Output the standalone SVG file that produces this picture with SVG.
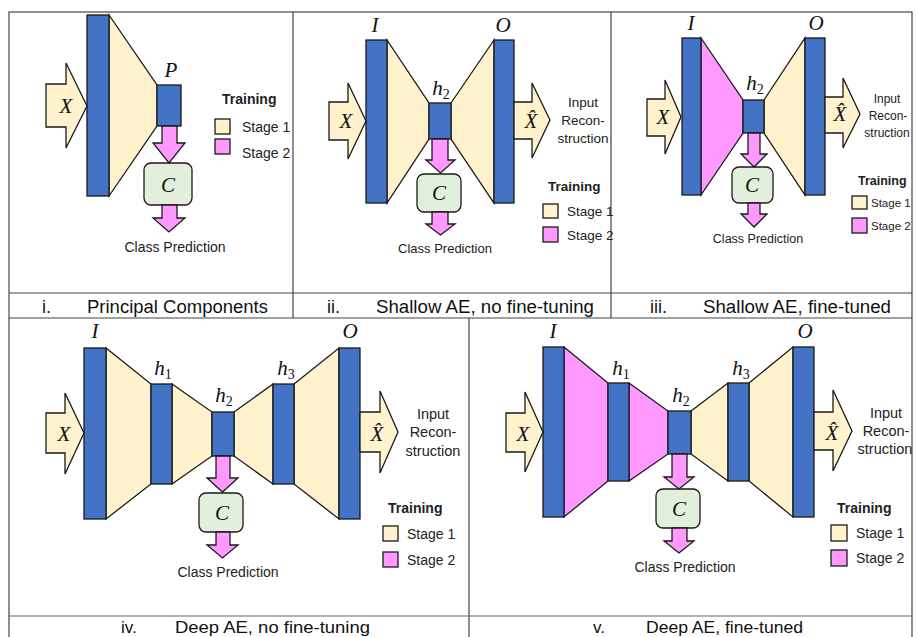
<svg xmlns="http://www.w3.org/2000/svg" width="916" height="637" viewBox="0 0 916 637">
<style>
.blue{fill:#4472c4;stroke:#1a1a1a;stroke-width:1.3}
.tan{fill:#fff2cc;stroke:#1a1a1a;stroke-width:1.3}
.pink{fill:#ff99ff;stroke:#1a1a1a;stroke-width:1.3}
.cbox{fill:#e2efda;stroke:#1a1a1a;stroke-width:1.3}
.grid{stroke:#444;stroke-width:1.2;fill:none}
.math{font-family:"Liberation Serif",serif;font-style:italic;font-size:21px;fill:#111;text-anchor:middle}
.sub{font-size:14px;font-style:normal}
.lbl{font-family:"Liberation Sans",sans-serif;font-size:14px;fill:#222}
.mid{text-anchor:middle}
.bold{font-weight:bold}
.cap{font-family:"Liberation Sans",sans-serif;font-size:18px;fill:#111}
.s12{font-size:12px}
.s115{font-size:11.5px}
.s125{font-size:12.5px}
.s13{font-size:13px}
.s135{font-size:13.5px}
.s145{font-size:14.5px}
.s17{font-size:17px}
</style>
<rect x="0" y="0" width="916" height="637" fill="#fff"/>

<g id="grid" class="grid">
<rect x="9" y="12" width="903" height="640"/>
<line x1="293" y1="12" x2="293" y2="318"/>
<line x1="611" y1="12" x2="611" y2="318"/>
<line x1="9" y1="293" x2="912" y2="293"/>
<line x1="9" y1="318" x2="912" y2="318"/>
<line x1="469" y1="318" x2="469" y2="637"/>
<line x1="9" y1="616" x2="912" y2="616" stroke="#666"/>
</g>

<g id="captions">
<text class="cap" x="42" y="313">i.</text>
<text class="cap" x="87" y="313" textLength="181" lengthAdjust="spacingAndGlyphs">Principal Components</text>
<text class="cap" x="327" y="313">ii.</text>
<text class="cap" x="376" y="313" textLength="218" lengthAdjust="spacingAndGlyphs">Shallow AE, no fine-tuning</text>
<text class="cap" x="650" y="313">iii.</text>
<text class="cap" x="703" y="313" textLength="188" lengthAdjust="spacingAndGlyphs">Shallow AE, fine-tuned</text>
<text class="cap s17" x="121" y="633">iv.</text>
<text class="cap s17" x="175" y="633" textLength="195" lengthAdjust="spacingAndGlyphs">Deep AE, no fine-tuning</text>
<text class="cap s17" x="593" y="633">v.</text>
<text class="cap s17" x="646" y="633" textLength="157" lengthAdjust="spacingAndGlyphs">Deep AE, fine-tuned</text>
</g>

<!-- Panel i -->
<g id="panel-i">
<g id="i-encoder"><polygon class="tan" points="109,15 157,85 157,126 109,196"/></g>
<g id="i-input-layer"><rect class="blue" x="87" y="15" width="22" height="181"/></g>
<g id="i-P"><rect class="blue" x="157" y="85" width="24" height="41"/><text class="math" x="171" y="77">P</text></g>
<g id="i-C"><rect class="cbox" x="144" y="163" width="48" height="42" rx="7"/><text class="math" x="168" y="192">C</text></g>
<g id="i-X"><polygon class="tan" points="46,84 66,84 66,63 87,106 66,148 66,127 46,127"/><text class="math" x="66" y="113">X</text></g>
<text class="lbl mid" x="175" y="252">Class Prediction</text>
<g id="i-legend">
<text class="lbl bold" x="222" y="104">Training</text>
<rect class="tan" x="215" y="119" width="15" height="15"/><text class="lbl" x="242" y="132">Stage 1</text>
<rect class="pink" x="215" y="139" width="15" height="15"/><text class="lbl" x="242" y="158">Stage 2</text>
</g>
</g>

<!-- Panel ii -->
<g id="panel-ii">
<g id="ii-encoder"><polygon class="tan" points="387,40 429,103 429,139 387,203"/></g>
<g id="ii-decoder"><polygon class="tan" points="451,103 494,40 494,203 451,139"/></g>
<g id="ii-I"><rect class="blue" x="366" y="40" width="21" height="163"/><text class="math" x="375" y="32">I</text></g>
<g id="ii-h2"><rect class="blue" x="429" y="103" width="22" height="36"/><text class="math" x="441" y="95">h<tspan class="sub" dy="4">2</tspan></text></g>
<g id="ii-O"><rect class="blue" x="494" y="40" width="20" height="163"/><text class="math" x="503" y="32">O</text></g>
<g id="ii-C"><rect class="cbox" x="417" y="174" width="44" height="38" rx="7"/><text class="math" x="439" y="200">C</text></g>
<g id="ii-X"><polygon class="tan" points="329,102 348,102 348,83 366,121 348,159 348,140 329,140"/><text class="math" x="346" y="128">X</text></g>
<g id="ii-Xhat"><polygon class="tan" points="514,102 532,102 532,83 550,120 532,158 532,139 514,139"/><text class="math" x="531" y="128">X&#x302;</text></g>
<text class="lbl mid s135" x="583" y="107">Input</text>
<text class="lbl mid s135" x="583" y="125">Recon-</text>
<text class="lbl mid s135" x="583" y="143">struction</text>
<text class="lbl mid s13" x="445" y="253">Class Prediction</text>
<g id="ii-legend">
<text class="lbl bold s135" x="548" y="191">Training</text>
<rect class="tan" x="543" y="204" width="15" height="14"/><text class="lbl s135" x="567" y="216">Stage 1</text>
<rect class="pink" x="543" y="227" width="15" height="15"/><text class="lbl s135" x="567" y="240">Stage 2</text>
</g>
</g>

<!-- Panel iii -->
<g id="panel-iii">
<g id="iii-encoder"><polygon class="pink" points="701,38 743,100 743,133 701,195"/></g>
<g id="iii-decoder"><polygon class="tan" points="764,100 805,38 805,195 764,133"/></g>
<g id="iii-I"><rect class="blue" x="682" y="38" width="19" height="157"/><text class="math" x="691" y="30">I</text></g>
<g id="iii-h2"><rect class="blue" x="743" y="100" width="21" height="33"/><text class="math" x="755" y="90">h<tspan class="sub" dy="4">2</tspan></text></g>
<g id="iii-O"><rect class="blue" x="805" y="38" width="20" height="157"/><text class="math" x="816" y="30">O</text></g>
<g id="iii-C"><rect class="cbox" x="732" y="167" width="41" height="36" rx="7"/><text class="math" x="752" y="192">C</text></g>
<g id="iii-X"><polygon class="tan" points="647,99 665,99 665,80 681,117 665,154 665,136 647,136"/><text class="math" x="663" y="124">X</text></g>
<g id="iii-Xhat"><polygon class="tan" points="825,97 843,97 843,78 860,114 843,148 843,133 825,133"/><text class="math" x="840" y="121">X&#x302;</text></g>
<text class="lbl mid s12" x="887" y="103">Input</text>
<text class="lbl mid s12" x="888" y="120">Recon-</text>
<text class="lbl mid s12" x="887" y="137">struction</text>
<text class="lbl mid s125" x="758" y="243">Class Prediction</text>
<g id="iii-legend">
<text class="lbl bold s125" x="858" y="185">Training</text>
<rect class="tan" x="852" y="196" width="15" height="13"/><text class="lbl s115" x="871" y="207">Stage 1</text>
<rect class="pink" x="852" y="218" width="15" height="15"/><text class="lbl s115" x="871" y="230">Stage 2</text>
</g>
</g>

<!-- Panel iv -->
<g id="panel-iv">
<g id="iv-enc1"><polygon class="tan" points="106,348 151,384 151,484 106,519"/></g>
<g id="iv-enc2"><polygon class="tan" points="172,384 212,412 212,456 172,484"/></g>
<g id="iv-dec1"><polygon class="tan" points="234,412 273,384 273,484 234,456"/></g>
<g id="iv-dec2"><polygon class="tan" points="294,384 339,348 339,519 294,484"/></g>
<g id="iv-I"><rect class="blue" x="84" y="348" width="22" height="171"/><text class="math" x="95" y="338">I</text></g>
<g id="iv-h1"><rect class="blue" x="151" y="384" width="21" height="100"/><text class="math" x="163" y="375">h<tspan class="sub" dy="4">1</tspan></text></g>
<g id="iv-h2"><rect class="blue" x="212" y="412" width="22" height="44"/><text class="math" x="224" y="402">h<tspan class="sub" dy="4">2</tspan></text></g>
<g id="iv-h3"><rect class="blue" x="273" y="384" width="21" height="100"/><text class="math" x="286" y="375">h<tspan class="sub" dy="4">3</tspan></text></g>
<g id="iv-O"><rect class="blue" x="339" y="348" width="21" height="171"/><text class="math" x="350" y="338">O</text></g>
<g id="iv-C"><rect class="cbox" x="199" y="493" width="44" height="39" rx="7"/><text class="math" x="222" y="520">C</text></g>
<g id="iv-X"><polygon class="tan" points="46,413 65,413 65,393 84,433 65,474 65,453 46,453"/><text class="math" x="64" y="441">X</text></g>
<g id="iv-Xhat"><polygon class="tan" points="360,412 380,412 380,391 398,432 380,473 380,452 360,452"/><text class="math" x="377" y="441">X&#x302;</text></g>
<text class="lbl mid s145" x="433" y="419">Input</text>
<text class="lbl mid s145" x="433" y="437">Recon-</text>
<text class="lbl mid s145" x="433" y="456">struction</text>
<text class="lbl mid" x="228" y="577">Class Prediction</text>
<g id="iv-legend">
<text class="lbl bold" x="388" y="513">Training</text>
<rect class="tan" x="383" y="526" width="15" height="15"/><text class="lbl" x="407" y="539">Stage 1</text>
<rect class="pink" x="383" y="552" width="15" height="15"/><text class="lbl" x="407" y="565">Stage 2</text>
</g>
</g>

<!-- Panel v -->
<g id="panel-v">
<g id="v-enc1"><polygon class="pink" points="564,347 608,383 608,481 564,517"/></g>
<g id="v-enc2"><polygon class="pink" points="629,383 668,411 668,454 629,481"/></g>
<g id="v-dec1"><polygon class="tan" points="691,411 728,383 728,481 691,454"/></g>
<g id="v-dec2"><polygon class="tan" points="749,383 793,347 793,517 749,481"/></g>
<g id="v-I"><rect class="blue" x="543" y="347" width="21" height="170"/><text class="math" x="553" y="338">I</text></g>
<g id="v-h1"><rect class="blue" x="608" y="383" width="21" height="98"/><text class="math" x="621" y="375">h<tspan class="sub" dy="4">1</tspan></text></g>
<g id="v-h2"><rect class="blue" x="668" y="411" width="23" height="43"/><text class="math" x="681" y="402">h<tspan class="sub" dy="4">2</tspan></text></g>
<g id="v-h3"><rect class="blue" x="728" y="383" width="21" height="98"/><text class="math" x="741" y="375">h<tspan class="sub" dy="4">3</tspan></text></g>
<g id="v-O"><rect class="blue" x="793" y="347" width="21" height="170"/><text class="math" x="805" y="338">O</text></g>
<g id="v-C"><rect class="cbox" x="656" y="489" width="44" height="39" rx="7"/><text class="math" x="679" y="516">C</text></g>
<g id="v-X"><polygon class="tan" points="506,413 525,413 525,392 543,432 525,472 525,452 506,452"/><text class="math" x="523" y="441">X</text></g>
<g id="v-Xhat"><polygon class="tan" points="814,412 833,412 833,390 852,431 833,471 833,450 814,450"/><text class="math" x="832" y="440">X&#x302;</text></g>
<text class="lbl mid s145" x="886" y="418">Input</text>
<text class="lbl mid s145" x="886" y="436">Recon-</text>
<text class="lbl mid s145" x="885" y="454">struction</text>
<text class="lbl mid" x="685" y="572">Class Prediction</text>
<g id="v-legend">
<text class="lbl bold" x="837" y="513">Training</text>
<rect class="tan" x="831" y="525" width="16" height="16"/><text class="lbl" x="856" y="538">Stage 1</text>
<rect class="pink" x="831" y="550" width="16" height="16"/><text class="lbl" x="856" y="563">Stage 2</text>
</g>
</g>

<g id="connectors">
<polygon class="pink" points="162,126 177,126 177,143 185,143 169,163 153,143 162,143"/>
<polygon class="pink" points="162,205 177,205 177,218 185,218 169,232 153,218 162,218"/>
<polygon class="pink" points="432,139 448,139 448,160 455,160 440.5,173 426,160 432,160"/>
<polygon class="pink" points="432,212 448,212 448,224 455,224 440.5,235 426,224 432,224"/>
<polygon class="pink" points="748,133 760,133 760,154 767,154 754,167 741,154 748,154"/>
<polygon class="pink" points="748,203 760,203 760,214 767,214 754,227 741,214 748,214"/>
<polygon class="pink" points="216,456 230,456 230,478 238,478 222.5,492 207,478 216,478"/>
<polygon class="pink" points="216,532 230,532 230,545 238,545 222.5,558 207,545 216,545"/>
<polygon class="pink" points="672,454 687,454 687,477 694,477 679,489 664,477 672,477"/>
<polygon class="pink" points="672,528 687,528 687,541 694,541 679,553 664,541 672,541"/>
</g>
</svg>
